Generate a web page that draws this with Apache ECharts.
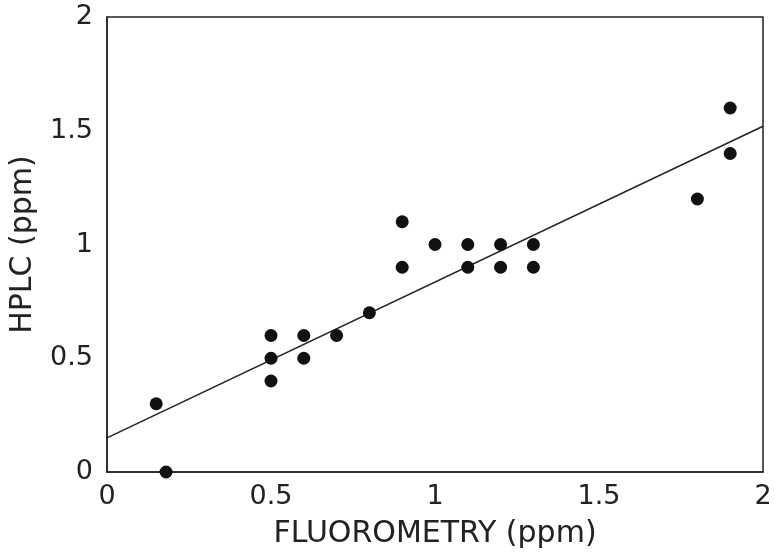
<!DOCTYPE html>
<html>
<head>
<meta charset="utf-8">
<script src="https://cdn.jsdelivr.net/npm/echarts@6/dist/echarts.min.js"></script>
<style>html,body{margin:0;padding:0;background:#fff;}#c{width:775px;height:556px;}</style>
</head>
<body>
<div id="c"></div>
<script>
const fluorometry = [0.15, 0.18, 0.5, 0.5, 0.5, 0.6, 0.6, 0.7, 0.8, 0.9, 0.9, 1.0, 1.1, 1.1, 1.2, 1.2, 1.3, 1.3, 1.8, 1.9, 1.9];
const hplc =        [0.3,  0.0,  0.6, 0.5, 0.4, 0.6, 0.5, 0.6, 0.7, 1.1, 0.9, 1.0, 1.0, 0.9, 1.0, 0.9, 1.0, 0.9, 1.2, 1.6, 1.4];
const fitX = [0, 2];
const fitY = [0.15, 1.52];

const chart = echarts.init(document.getElementById('c'));
const txt = '#222';
const font = 'DejaVu Sans';
chart.setOption({
  backgroundColor: '#fff',
  animation: false,
  grid: {left: 105, right: 12, top: 17, bottom: 84, show: true, borderColor: txt, borderWidth: 1.5},
  xAxis: {
    type: 'value', min: 0, max: 2, interval: 0.5,
    name: 'FLUOROMETRY (ppm)', nameLocation: 'middle', nameGap: 47,
    nameTextStyle: {fontFamily: font, fontSize: 30, color: txt},
    axisLine: {show: true, lineStyle: {color: txt, width: 1.5}},
    axisTick: {show: false}, splitLine: {show: false},
    axisLabel: {fontFamily: font, fontSize: 27, color: txt, margin: 11,
      formatter: v => String(v)}
  },
  yAxis: {
    type: 'value', min: 0, max: 2, interval: 0.5,
    name: 'HPLC (ppm)', nameLocation: 'middle', nameGap: 69,
    nameTextStyle: {fontFamily: font, fontSize: 30, color: txt},
    axisLine: {show: true, lineStyle: {color: txt, width: 1.5}},
    axisTick: {show: false}, splitLine: {show: false},
    axisLabel: {fontFamily: font, fontSize: 27, color: txt, margin: 14,
      formatter: v => String(v)}
  },
  series: [
    {type: 'line', data: fitX.map((x, i) => [x, fitY[i]]), symbol: 'none',
     lineStyle: {color: txt, width: 1.5}, z: 2},
    {type: 'scatter', data: fluorometry.map((x, i) => [x, hplc[i]]), symbolSize: 13,
     itemStyle: {color: '#111', opacity: 1}, z: 3}
  ]
});
</script>
</body>
</html>
